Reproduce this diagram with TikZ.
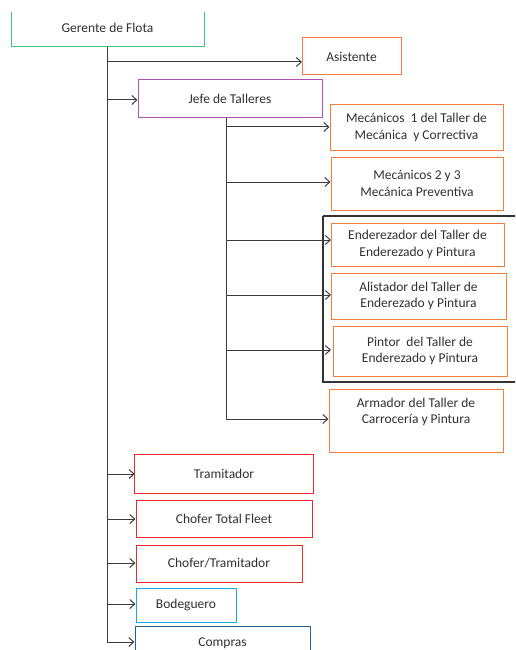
\documentclass[tikz,border=0pt]{standalone}
\usepackage{fontspec}
\setmainfont{Carlito}
\usetikzlibrary{arrows.meta}
\definecolor{cgreen}{RGB}{60,200,120}
\definecolor{cmag}{RGB}{178,80,178}
\definecolor{corange}{RGB}{240,128,64}
\definecolor{cred}{RGB}{240,40,40}
\definecolor{clblue}{RGB}{20,170,230}
\definecolor{cdblue}{RGB}{30,100,140}
\definecolor{cline}{RGB}{60,60,60}
\definecolor{ctext}{RGB}{48,48,48}
\tikzset{
  box/.style={line width=1pt, inner sep=0pt, text=ctext, align=center, font=\fontsize{13.5}{16.5}\selectfont},
  lbl/.style={inner sep=0pt, text=ctext, align=center, font=\fontsize{13.5}{16.5}\selectfont},
  conn/.style={draw=cline, line width=1pt, -{Straight Barb[length=5pt,width=9pt]}},
  trunk/.style={draw=cline, line width=1pt},
}
\begin{document}
\begin{tikzpicture}[x=1pt,y=-1pt]
\useasboundingbox (0,0) rectangle (515,650);
\clip (0,0) rectangle (515,650);
% Gerente
\node[lbl, minimum width=193, minimum height=35] (ger) at (107.5,28) {Gerente de Flota};
\draw[cgreen, line width=1pt] (11,12) -- (11,47) -- (204,47) -- (204,12);
% trunk
\coordinate (t0) at (107,47);
\coordinate (tend) at (107,643);
\draw[trunk] (t0) -- (tend);
% black frame
\draw[black!80, line width=2pt] (323,216) -- (323,382) -- (520,382);
\draw[black!80, line width=2pt] (323,216) -- (520,216);
% level 1 boxes
\node[box, draw=corange, minimum width=99, minimum height=37] (asis) at (351.5,56.5) {Asistente};
\node[box, draw=cmag, minimum width=184, minimum height=38] (jefe) at (230,99) {Jefe de Talleres};
\node[lbl, minimum width=178, minimum height=38] (tramit) at (224,474) {Tramitador};
\draw[cred, line width=1pt] (tramit.south west) rectangle (tramit.north east);
\node[box, draw=cred, minimum width=176, minimum height=37] (chtf) at (224,518.5) {Chofer Total Fleet};
\node[box, draw=cred, minimum width=166, minimum height=37] (chtr) at (219,563.5) {Chofer/Tramitador};
\node[box, draw=clblue, minimum width=100, minimum height=34] (bod) at (186,605) {Bodeguero};
\node[box, draw=cdblue, minimum width=175, minimum height=34] (comp) at (222.5,643) {Compras};
% level 2 boxes
\node[box, draw=corange, minimum width=173, minimum height=45] (mec1) at (416.5,127.5) {Mecánicos\ \ 1 del Taller de\\Mecánica\ \ y Correctiva};
\node[box, draw=corange, minimum width=172, minimum height=53] (mec2) at (417,183.5) {Mecánicos 2 y 3\\Mecánica Preventiva};
\node[box, draw=corange, minimum width=173, minimum height=43] (ende) at (417.5,244.5) {Enderezador del Taller de\\Enderezado y Pintura};
\node[box, draw=corange, minimum width=175, minimum height=46] (alis) at (418.5,296) {Alistador del Taller de\\Enderezado y Pintura};
\node[box, draw=corange, minimum width=174, minimum height=50] (pint) at (420,351) {Pintor\ \ del Taller de\\Enderezado y Pintura};
\node[box, draw=corange, minimum width=174, minimum height=63] (arma) at (416,420.5) {};
\node[lbl] (armat) at (416,412) {Armador del Taller de\\Carrocería y Pintura};
% sub trunk
\coordinate (s0) at (226,118);
\coordinate (send) at (226,419);
\draw[trunk] (s0) -- (send);
% connectors from main trunk
\draw[conn] (107,62) -- (302,62);
\draw[conn] (107,100) -- (jefe.west |- 0,100);
\draw[conn] (107,474) -- (tramit.west |- 0,474);
\draw[conn] (107,519) -- (chtf.west |- 0,519);
\draw[conn] (107,563) -- (chtr.west |- 0,563);
\draw[conn] (107,604) -- (bod.west |- 0,604);
\draw[conn] (107,642) -- (comp.west |- 0,642);
% connectors from sub trunk
\draw[conn] (226,127) -- (mec1.west |- 0,127);
\draw[conn] (226,182) -- (mec2.west |- 0,182);
\draw[conn] (226,240) -- (331,240);
\draw[conn] (226,295) -- (331,295);
\draw[conn] (226,350) -- (331,350);
\draw[conn] (send) -- (arma.west |- 0,419);
\end{tikzpicture}
\end{document}
